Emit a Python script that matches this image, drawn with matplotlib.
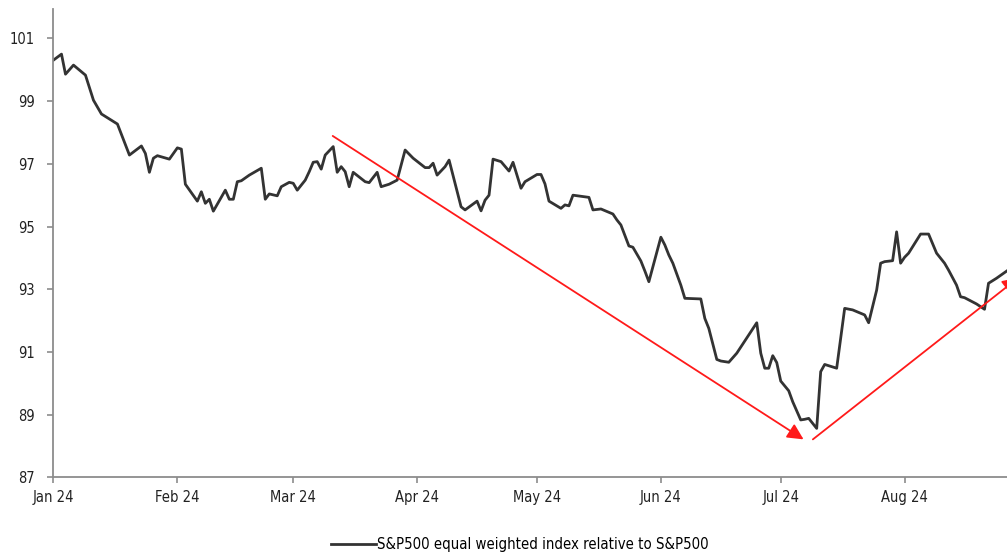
import matplotlib
matplotlib.use("Agg")
import matplotlib.pyplot as plt
from matplotlib import font_manager
import pandas as pd

# S&P500 equal weighted index relative to S&P500 (2024)
dates = [
    "2024-01-01", "2024-01-03", "2024-01-04", "2024-01-06", "2024-01-09", "2024-01-11",
    "2024-01-13", "2024-01-17", "2024-01-20", "2024-01-23", "2024-01-24", "2024-01-25",
    "2024-01-26", "2024-01-27", "2024-01-30", "2024-02-01", "2024-02-02", "2024-02-03",
    "2024-02-06", "2024-02-07", "2024-02-08", "2024-02-09", "2024-02-10", "2024-02-13",
    "2024-02-14", "2024-02-15", "2024-02-16", "2024-02-17", "2024-02-19", "2024-02-22",
    "2024-02-23", "2024-02-24", "2024-02-26", "2024-02-27", "2024-02-29", "2024-03-01",
    "2024-03-02", "2024-03-04", "2024-03-05", "2024-03-06", "2024-03-07", "2024-03-08",
    "2024-03-09", "2024-03-11", "2024-03-12", "2024-03-13", "2024-03-14", "2024-03-15",
    "2024-03-16", "2024-03-19", "2024-03-20", "2024-03-22", "2024-03-23", "2024-03-25",
    "2024-03-27", "2024-03-29", "2024-03-31", "2024-04-03", "2024-04-04", "2024-04-05",
    "2024-04-06", "2024-04-08", "2024-04-09", "2024-04-12", "2024-04-13", "2024-04-16",
    "2024-04-17", "2024-04-18", "2024-04-19", "2024-04-20", "2024-04-22", "2024-04-24",
    "2024-04-25", "2024-04-27", "2024-04-28", "2024-05-01", "2024-05-02", "2024-05-03",
    "2024-05-04", "2024-05-07", "2024-05-08", "2024-05-09", "2024-05-10", "2024-05-14",
    "2024-05-15", "2024-05-17", "2024-05-20", "2024-05-21", "2024-05-22", "2024-05-24",
    "2024-05-25", "2024-05-27", "2024-05-28", "2024-05-29", "2024-06-01", "2024-06-02",
    "2024-06-03", "2024-06-04", "2024-06-06", "2024-06-07", "2024-06-11", "2024-06-12",
    "2024-06-13", "2024-06-15", "2024-06-16", "2024-06-18", "2024-06-20", "2024-06-25",
    "2024-06-26", "2024-06-27", "2024-06-28", "2024-06-29", "2024-06-30", "2024-07-01",
    "2024-07-03", "2024-07-04", "2024-07-06", "2024-07-07", "2024-07-08", "2024-07-09",
    "2024-07-10", "2024-07-11", "2024-07-12", "2024-07-15", "2024-07-17", "2024-07-19",
    "2024-07-22", "2024-07-23", "2024-07-25", "2024-07-26", "2024-07-27", "2024-07-29",
    "2024-07-30", "2024-07-31", "2024-08-01", "2024-08-02", "2024-08-05", "2024-08-07",
    "2024-08-09", "2024-08-11", "2024-08-12", "2024-08-14", "2024-08-15", "2024-08-16",
    "2024-08-19", "2024-08-21", "2024-08-22", "2024-08-24", "2024-08-26", "2024-08-27",
]
relative = [
    100.31, 100.50, 99.86, 100.15, 99.83, 99.03,
    98.59, 98.27, 97.28, 97.57, 97.33, 96.73,
    97.18, 97.26, 97.15, 97.51, 97.47, 96.35,
    95.81, 96.11, 95.74, 95.87, 95.49, 96.16,
    95.87, 95.87, 96.43, 96.46, 96.64, 96.86,
    95.87, 96.04, 95.98, 96.27, 96.41, 96.38,
    96.16, 96.48, 96.75, 97.05, 97.07, 96.83,
    97.28, 97.55, 96.73, 96.91, 96.75, 96.27,
    96.73, 96.43, 96.40, 96.73, 96.27, 96.35,
    96.48, 97.44, 97.18, 96.88, 96.88, 97.02,
    96.64, 96.91, 97.12, 95.63, 95.53, 95.81,
    95.50, 95.84, 96.00, 97.15, 97.07, 96.77,
    97.05, 96.22, 96.43, 96.66, 96.66, 96.36,
    95.81, 95.58, 95.69, 95.66, 96.00, 95.93,
    95.53, 95.56, 95.40, 95.21, 95.05, 94.38,
    94.34, 93.90, 93.58, 93.24, 94.66, 94.41,
    94.09, 93.83, 93.13, 92.71, 92.69, 92.07,
    91.75, 90.76, 90.71, 90.67, 90.96, 91.93,
    90.96, 90.48, 90.48, 90.88, 90.66, 90.07,
    89.76, 89.41, 88.83, 88.85, 88.88, 88.72,
    88.56, 90.37, 90.60, 90.48, 92.39, 92.34,
    92.18, 91.93, 92.97, 93.83, 93.88, 93.91,
    94.83, 93.83, 94.02, 94.15, 94.76, 94.76,
    94.15, 93.83, 93.61, 93.13, 92.76, 92.73,
    92.53, 92.36, 93.19, 93.35, 93.53, 93.62,
]

# Trend arrows: decline into July, rebound since
down_dates = ["2024-03-10 21:00", "2024-07-06 17:00"]
down_values = [97.89, 88.21]
up_dates = ["2024-07-09 01:00", "2024-08-29 12:00"]
up_values = [88.21, 93.37]

tick_months = ["2024-01-01", "2024-02-01", "2024-03-01", "2024-04-01",
               "2024-05-01", "2024-06-01", "2024-07-01", "2024-08-01"]
tick_labels = ["Jan 24", "Feb 24", "Mar 24", "Apr 24", "May 24", "Jun 24", "Jul 24", "Aug 24"]
y_ticks = [87, 89, 91, 93, 95, 97, 99, 101]


def pick_narrow_font():
    """Prefer a narrow/condensed sans face; fall back to regular Liberation Sans."""
    entries = font_manager.fontManager.ttflist
    for e in entries:
        if e.name == "Liberation Sans Narrow" and e.weight in (400, "normal"):
            return e.fname, 1.0
    for e in entries:
        if e.name == "DejaVu Sans" and str(e.stretch) in ("condensed", "semi-condensed") \
                and e.weight in (400, "normal") and e.style == "normal":
            return e.fname, 0.92
    return None, 0.82


narrow_path, size_factor = pick_narrow_font()
if narrow_path:
    font_manager.fontManager.addfont(narrow_path)
    base = font_manager.FontProperties(fname=narrow_path)
else:
    plt.rcParams["font.family"] = ["Liberation Sans", "DejaVu Sans"]
    base = font_manager.FontProperties(family=["Liberation Sans", "DejaVu Sans"])

tick_font = base.copy()
tick_font.set_size(11.45 * size_factor)
legend_font = base.copy()
legend_font.set_size(11.6 * size_factor)

x = pd.to_datetime(dates)

fig = plt.figure(figsize=(10.07, 5.55), dpi=100)
ax = fig.add_axes([53 / 1007, 1 - 477.3 / 555, 1 - 53 / 1007, (477.3 - 9.3) / 555])

line, = ax.plot(x, relative, color="#333333", lw=2.0,
                label="S&P500 equal weighted index relative to S&P500",
                solid_joinstyle="round")

for d, v in ((down_dates, down_values), (up_dates, up_values)):
    dd = pd.to_datetime(d)
    ax.annotate("", xy=(dd[1], v[1]), xytext=(dd[0], v[0]),
                annotation_clip=False,
                arrowprops=dict(arrowstyle="-|>,head_length=0.8,head_width=0.4",
                                color="#ff1a1a", lw=1.3,
                                mutation_scale=12, shrinkA=0, shrinkB=0))

ax.set_xlim(pd.Timestamp("2024-01-01 00:00") - pd.Timedelta(hours=3),
            pd.Timestamp("2024-08-26 15:00"))
ax.set_ylim(87, 101.93)

ax.set_xticks(pd.to_datetime(tick_months))
ax.set_xticklabels(tick_labels, fontproperties=tick_font)
ax.set_yticks(y_ticks)
ax.set_yticklabels([str(t) for t in y_ticks], fontproperties=tick_font)

for side in ("top", "right"):
    ax.spines[side].set_visible(False)
for side in ("left", "bottom"):
    ax.spines[side].set_color("#8c8c8c")
    ax.spines[side].set_linewidth(1.3)

ax.tick_params(axis="both", colors="#8c8c8c", length=4, width=1.2,
               labelcolor="#222222")
ax.tick_params(axis="x", pad=5)
ax.tick_params(axis="y", pad=9)

fig.legend(handles=[line], loc="center", bbox_to_anchor=(520 / 1007, 1 - 545 / 555),
           frameon=False, prop=legend_font, handlelength=3.0, handletextpad=0.1,
           borderaxespad=0)

fig.savefig("out.png", dpi=100, facecolor="white")
